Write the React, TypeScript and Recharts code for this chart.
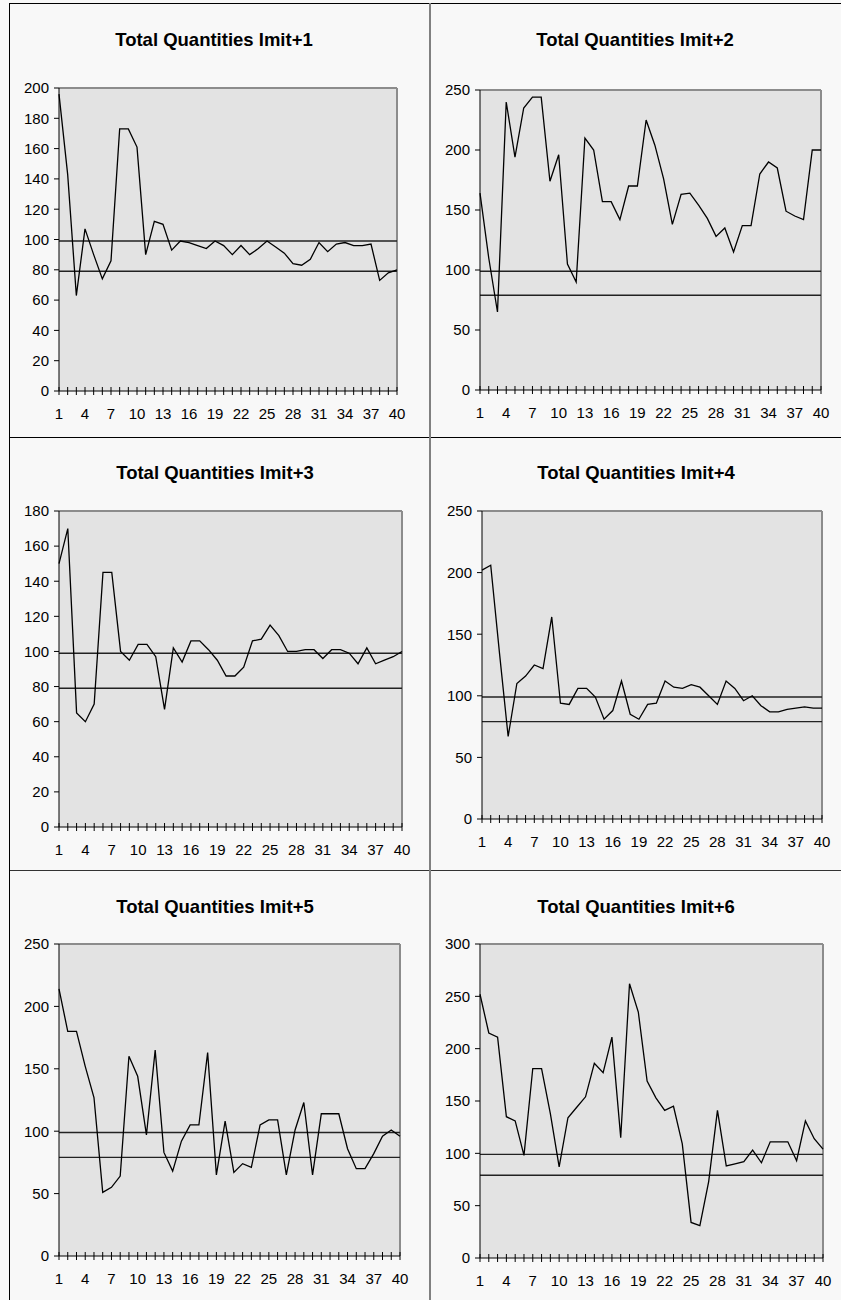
import React from "react";
import { LineChart, Line, XAxis, YAxis, CartesianGrid, ReferenceLine } from "recharts";

const PERIODS = [
  1, 2, 3, 4, 5, 6, 7, 8, 9, 10, 11, 12, 13, 14, 15, 16, 17, 18, 19, 20,
  21, 22, 23, 24, 25, 26, 27, 28, 29, 30, 31, 32, 33, 34, 35, 36, 37, 38, 39, 40,
];
const X_LABELS = [1, 4, 7, 10, 13, 16, 19, 22, 25, 28, 31, 34, 37, 40];

const UPPER_LIMIT = 99;
const LOWER_LIMIT = 79;

const IMIT_1 = [
  196, 143, 63, 107, 90, 74, 86, 173, 173, 161, 90, 112, 110, 93, 99, 98, 96, 94, 99, 96,
  90, 96, 90, 94, 99, 95, 91, 84, 83, 87, 98, 92, 97, 98, 96, 96, 97, 73, 78, 80,
];
const IMIT_2 = [
  164, 110, 65, 240, 194, 235, 244, 244, 174, 196, 105, 90, 210, 200, 157, 157, 142, 170, 170, 225,
  204, 176, 138, 163, 164, 154, 143, 128, 135, 115, 137, 137, 180, 190, 185, 149, 145, 142, 200, 200,
];
const IMIT_3 = [
  150, 170, 65, 60, 70, 145, 145, 100, 95, 104, 104, 97, 67, 102, 94, 106, 106, 101, 95, 86,
  86, 91, 106, 107, 115, 109, 100, 100, 101, 101, 96, 101, 101, 99, 93, 102, 93, 95, 97, 100,
];
const IMIT_4 = [
  202, 206, 135, 67, 110, 116, 125, 122, 164, 94, 93, 106, 106, 99, 81, 88, 112, 85, 81, 93,
  94, 112, 107, 106, 109, 107, 100, 93, 112, 106, 96, 100, 92, 87, 87, 89, 90, 91, 90, 90,
];
const IMIT_5 = [
  214, 180, 180, 152, 127, 51, 55, 64, 160, 144, 97, 165, 83, 68, 92, 105, 105, 163, 65, 108,
  67, 74, 71, 105, 109, 109, 65, 101, 123, 65, 114, 114, 114, 86, 70, 70, 82, 96, 101, 96,
];
const IMIT_6 = [
  252, 215, 211, 135, 131, 98, 181, 181, 138, 87, 134, 144, 154, 186, 177, 211, 115, 262, 235, 169,
  153, 141, 145, 109, 34, 31, 73, 141, 88, 90, 92, 103, 91, 111, 111, 111, 93, 131, 114, 104,
];

const TICKS_180 = [0, 20, 40, 60, 80, 100, 120, 140, 160, 180];
const TICKS_200 = [0, 20, 40, 60, 80, 100, 120, 140, 160, 180, 200];
const TICKS_250 = [0, 50, 100, 150, 200, 250];
const TICKS_300 = [0, 50, 100, 150, 200, 250, 300];

const FONT = "'Liberation Sans', Arial, sans-serif";
const Y_AXIS_W = 40;
const X_AXIS_H = 30;

type Box = { left: number; top: number; right: number; bottom: number };

interface PanelProps {
  title: string;
  values: number[];
  yTicks: number[];
  cell: Box;
  plot: Box;
  titleX: number;
  titleBase: number;
}

function XTick(props: any) {
  const { x, y, payload } = props;
  const show = X_LABELS.includes(payload.value);
  return (
    <g>
      <line x1={x} x2={x} y1={y - 4} y2={y + 4} stroke="#000" strokeWidth={1} />
      {show && (
        <text x={x} y={y + 28} textAnchor="middle" fontSize={15} fontFamily={FONT} fill="#000">
          {payload.value}
        </text>
      )}
    </g>
  );
}

function Panel({ title, values, yTicks, cell, plot, titleX, titleBase }: PanelProps) {
  const data = PERIODS.map((p, i) => ({ period: p, value: values[i] }));
  const w = cell.right - cell.left;
  const h = cell.bottom - cell.top;
  const yMax = yTicks[yTicks.length - 1];
  const margin = {
    top: plot.top - cell.top,
    left: plot.left - cell.left - Y_AXIS_W,
    right: cell.right - plot.right,
    bottom: cell.bottom - plot.bottom - X_AXIS_H,
  };
  return (
    <>
      <div
        style={{
          position: "absolute",
          left: titleX - 150,
          top: titleBase - 15,
          width: 300,
          textAlign: "center",
          fontFamily: FONT,
          fontWeight: "bold",
          fontSize: 18.5,
          lineHeight: "18.5px",
          color: "#000",
          whiteSpace: "nowrap",
        }}
      >
        {title}
      </div>
      <div style={{ position: "absolute", left: cell.left, top: cell.top }}>
        <LineChart width={w} height={h} data={data} margin={margin}>
          <CartesianGrid horizontal={false} vertical={false} fill="#e3e3e3" />
          <XAxis
            dataKey="period"
            type="number"
            domain={[1, 40]}
            ticks={PERIODS}
            interval={0}
            height={X_AXIS_H}
            tickSize={0}
            tickMargin={0}
            tickLine={false}
            axisLine={{ stroke: "#000", strokeWidth: 1 }}
            tick={<XTick />}
          />
          <YAxis
            width={Y_AXIS_W}
            domain={[0, yMax]}
            ticks={yTicks}
            interval={0}
            tickSize={5}
            tickMargin={5}
            axisLine={{ stroke: "#000", strokeWidth: 1 }}
            tickLine={{ stroke: "#000" }}
            tick={{ fontSize: 15, fontFamily: FONT, fill: "#000" }}
          />
          <ReferenceLine y={yMax} stroke="#8c8c8c" strokeWidth={2} />
          <ReferenceLine x={40} stroke="#8c8c8c" strokeWidth={2} />
          <ReferenceLine y={UPPER_LIMIT} stroke="#222" strokeWidth={1.4} />
          <ReferenceLine y={LOWER_LIMIT} stroke="#222" strokeWidth={1.4} />
          <Line
            type="linear"
            dataKey="value"
            stroke="#000"
            strokeWidth={1.3}
            dot={false}
            isAnimationActive={false}
          />
        </LineChart>
      </div>
    </>
  );
}

export default function App() {
  return (
    <div
      style={{
        position: "absolute",
        left: 0,
        top: 0,
        width: 841,
        height: 1300,
        background: "#f8f8f8",
        overflow: "hidden",
      }}
    >
      {/* table borders */}
      <div style={{ position: "absolute", left: 9, top: 3, width: 832, height: 1, background: "#000" }} />
      <div style={{ position: "absolute", left: 9, top: 437, width: 832, height: 1, background: "#000" }} />
      <div style={{ position: "absolute", left: 9, top: 870, width: 832, height: 1, background: "#333" }} />
      <div style={{ position: "absolute", left: 9, top: 3, width: 1, height: 1297, background: "#000" }} />
      <div style={{ position: "absolute", left: 429, top: 3, width: 2, height: 1297, background: "#808080" }} />

      <Panel
        title="Total Quantities Imit+1"
        values={IMIT_1}
        yTicks={TICKS_200}
        cell={{ left: 10, top: 4, right: 429, bottom: 437 }}
        plot={{ left: 59, top: 88, right: 397, bottom: 391 }}
        titleX={214}
        titleBase={46}
      />
      <Panel
        title="Total Quantities Imit+2"
        values={IMIT_2}
        yTicks={TICKS_250}
        cell={{ left: 431, top: 4, right: 841, bottom: 437 }}
        plot={{ left: 480, top: 90, right: 821, bottom: 390 }}
        titleX={635}
        titleBase={46}
      />
      <Panel
        title="Total Quantities Imit+3"
        values={IMIT_3}
        yTicks={TICKS_180}
        cell={{ left: 10, top: 438, right: 429, bottom: 870 }}
        plot={{ left: 59, top: 511, right: 402, bottom: 827 }}
        titleX={215}
        titleBase={479}
      />
      <Panel
        title="Total Quantities Imit+4"
        values={IMIT_4}
        yTicks={TICKS_250}
        cell={{ left: 431, top: 438, right: 841, bottom: 870 }}
        plot={{ left: 482, top: 511, right: 822, bottom: 819 }}
        titleX={636}
        titleBase={479}
      />
      <Panel
        title="Total Quantities Imit+5"
        values={IMIT_5}
        yTicks={TICKS_250}
        cell={{ left: 10, top: 871, right: 429, bottom: 1300 }}
        plot={{ left: 59, top: 944, right: 400, bottom: 1256 }}
        titleX={215}
        titleBase={913}
      />
      <Panel
        title="Total Quantities Imit+6"
        values={IMIT_6}
        yTicks={TICKS_300}
        cell={{ left: 431, top: 871, right: 841, bottom: 1300 }}
        plot={{ left: 480, top: 944, right: 823, bottom: 1258 }}
        titleX={636}
        titleBase={913}
      />
    </div>
  );
}
